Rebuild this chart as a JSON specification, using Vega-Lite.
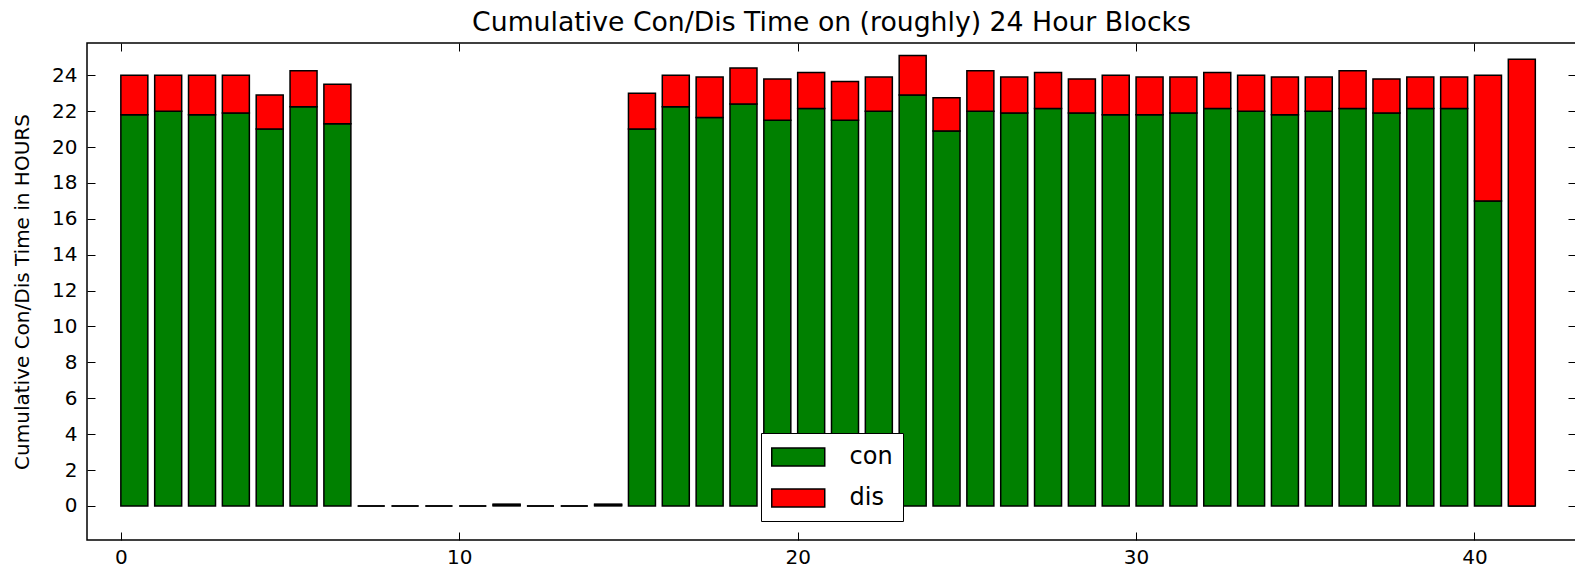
{
  "$schema": "https://vega.github.io/schema/vega-lite/v6.json",
  "autosize": {"type": "none"},
  "padding": {"left": 87, "top": 43, "right": 0, "bottom": 30},
  "width": 1489,
  "height": 497,
  "config": {
    "font": "DejaVu Sans",
    "view": {"stroke": "black", "strokeWidth": 1.5},
    "axis": {"domain": false, "grid": false, "tickColor": "black", "tickSize": -8, "tickWidth": 1, "labelColor": "black", "labelFont": "DejaVu Sans", "labelFontSize": 20, "titleFont": "DejaVu Sans", "titleFontSize": 20, "titleFontWeight": "normal", "titleColor": "black"}
  },
  "title": {"text": "Cumulative Con/Dis Time on (roughly) 24 Hour Blocks", "font": "DejaVu Sans", "fontSize": 26.7, "fontWeight": "normal", "color": "black", "offset": 6},
  "data": {"values": [
    {"i":0,"type":"con","hours":21.8},{"i":0,"type":"dis","hours":2.2},
    {"i":1,"type":"con","hours":22.0},{"i":1,"type":"dis","hours":2.0},
    {"i":2,"type":"con","hours":21.8},{"i":2,"type":"dis","hours":2.2},
    {"i":3,"type":"con","hours":21.9},{"i":3,"type":"dis","hours":2.1},
    {"i":4,"type":"con","hours":21.0},{"i":4,"type":"dis","hours":1.9},
    {"i":5,"type":"con","hours":22.25},{"i":5,"type":"dis","hours":2.0},
    {"i":6,"type":"con","hours":21.3},{"i":6,"type":"dis","hours":2.2},
    {"i":7,"type":"con","hours":0},{"i":7,"type":"dis","hours":0},
    {"i":8,"type":"con","hours":0},{"i":8,"type":"dis","hours":0},
    {"i":9,"type":"con","hours":0},{"i":9,"type":"dis","hours":0},
    {"i":10,"type":"con","hours":0},{"i":10,"type":"dis","hours":0},
    {"i":11,"type":"con","hours":0.05},{"i":11,"type":"dis","hours":0.05},
    {"i":12,"type":"con","hours":0},{"i":12,"type":"dis","hours":0},
    {"i":13,"type":"con","hours":0},{"i":13,"type":"dis","hours":0},
    {"i":14,"type":"con","hours":0.05},{"i":14,"type":"dis","hours":0.05},
    {"i":15,"type":"con","hours":21.0},{"i":15,"type":"dis","hours":2.0},
    {"i":16,"type":"con","hours":22.25},{"i":16,"type":"dis","hours":1.75},
    {"i":17,"type":"con","hours":21.65},{"i":17,"type":"dis","hours":2.25},
    {"i":18,"type":"con","hours":22.4},{"i":18,"type":"dis","hours":2.0},
    {"i":19,"type":"con","hours":21.5},{"i":19,"type":"dis","hours":2.3},
    {"i":20,"type":"con","hours":22.15},{"i":20,"type":"dis","hours":2.0},
    {"i":21,"type":"con","hours":21.5},{"i":21,"type":"dis","hours":2.15},
    {"i":22,"type":"con","hours":22.0},{"i":22,"type":"dis","hours":1.9},
    {"i":23,"type":"con","hours":22.9},{"i":23,"type":"dis","hours":2.2},
    {"i":24,"type":"con","hours":20.9},{"i":24,"type":"dis","hours":1.85},
    {"i":25,"type":"con","hours":22.0},{"i":25,"type":"dis","hours":2.25},
    {"i":26,"type":"con","hours":21.9},{"i":26,"type":"dis","hours":2.0},
    {"i":27,"type":"con","hours":22.15},{"i":27,"type":"dis","hours":2.0},
    {"i":28,"type":"con","hours":21.9},{"i":28,"type":"dis","hours":1.9},
    {"i":29,"type":"con","hours":21.8},{"i":29,"type":"dis","hours":2.2},
    {"i":30,"type":"con","hours":21.8},{"i":30,"type":"dis","hours":2.1},
    {"i":31,"type":"con","hours":21.9},{"i":31,"type":"dis","hours":2.0},
    {"i":32,"type":"con","hours":22.15},{"i":32,"type":"dis","hours":2.0},
    {"i":33,"type":"con","hours":22.0},{"i":33,"type":"dis","hours":2.0},
    {"i":34,"type":"con","hours":21.8},{"i":34,"type":"dis","hours":2.1},
    {"i":35,"type":"con","hours":22.0},{"i":35,"type":"dis","hours":1.9},
    {"i":36,"type":"con","hours":22.15},{"i":36,"type":"dis","hours":2.1},
    {"i":37,"type":"con","hours":21.9},{"i":37,"type":"dis","hours":1.9},
    {"i":38,"type":"con","hours":22.15},{"i":38,"type":"dis","hours":1.75},
    {"i":39,"type":"con","hours":22.15},{"i":39,"type":"dis","hours":1.75},
    {"i":40,"type":"con","hours":17.0},{"i":40,"type":"dis","hours":7.0},
    {"i":41,"type":"con","hours":0},{"i":41,"type":"dis","hours":24.9}
  ]},
  "layer": [
    {
      "mark": {"type": "bar", "width": 27, "xOffset": 13.5, "stroke": "black", "strokeWidth": 1.5, "opacity": 1},
      "encoding": {
        "x": {"field": "i", "type": "quantitative", "scale": {"domain": [-1, 43], "nice": false, "zero": false, "padding": 0}, "axis": {"orient": "bottom", "values": [0, 10, 20, 30, 40], "title": null, "labelPadding": 15}},
        "y": {"field": "hours", "type": "quantitative", "stack": "zero", "scale": {"domain": [-1.9, 25.8], "nice": false, "zero": false, "padding": 0}, "axis": {"orient": "left", "values": [0,2,4,6,8,10,12,14,16,18,20,22,24], "title": "Cumulative Con/Dis Time in HOURS", "labelPadding": 18, "titlePadding": 19}},
        "color": {"field": "type", "type": "nominal", "scale": {"domain": ["con", "dis"], "range": ["#008000", "#ff0000"]},
          "legend": {"orient": "none", "legendX": 674, "legendY": 390, "title": null, "fillColor": "white", "strokeColor": "black", "padding": 10, "labelFontSize": 24, "labelFont": "DejaVu Sans", "labelColor": "black", "symbolType": "M-1,-0.68L3,-0.68L3,0.68L-1,0.68Z", "symbolSize": 702, "symbolStrokeColor": "black", "symbolStrokeWidth": 1.5, "symbolOpacity": 1, "labelOffset": 50.5, "rowPadding": 14, "cornerRadius": 0}},
        "order": {"field": "type", "sort": "ascending"}
      }
    },
    {
      "mark": {"type": "point", "opacity": 0},
      "encoding": {
        "x": {"field": "i", "type": "quantitative", "scale": {"domain": [-1, 43], "nice": false, "zero": false, "padding": 0}, "axis": {"orient": "top", "values": [0, 10, 20, 30, 40], "labels": false, "title": null}},
        "y": {"field": "hours", "type": "quantitative", "scale": {"domain": [-1.9, 25.8], "nice": false, "zero": false, "padding": 0}, "axis": {"orient": "right", "values": [0,2,4,6,8,10,12,14,16,18,20,22,24], "labels": false, "title": null}}
      }
    }
  ],
  "resolve": {"axis": {"x": "independent", "y": "independent"}}
}
